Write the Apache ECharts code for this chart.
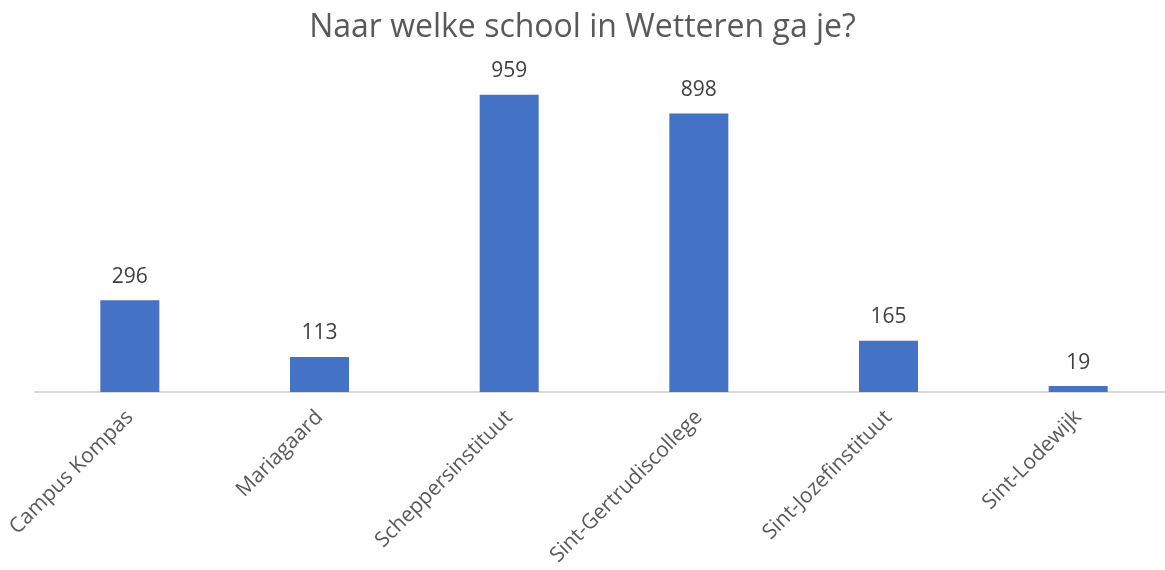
<!DOCTYPE html>
<html>
<head>
<meta charset="utf-8">
<script src="https://cdn.jsdelivr.net/npm/echarts@6/dist/echarts.min.js"></script>
<style>
  html, body { margin: 0; padding: 0; background: #fff; }
  #main { width: 1165px; height: 570px; }
</style>
</head>
<body>
<div id="main"></div>
<script>
var schools = ['Campus Kompas', 'Mariagaard', 'Scheppersinstituut', 'Sint-Gertrudiscollege', 'Sint-Jozefinstituut', 'Sint-Lodewijk'];
var counts = [296, 113, 959, 898, 165, 19];

var chart = echarts.init(document.getElementById('main'));

var option = {
  animation: false,
  title: {
    text: 'Naar welke school in Wetteren ga je?',
    left: 'center',
    top: 7,
    textStyle: {
      color: '#595959',
      fontFamily: 'Open Sans',
      fontWeight: 'normal',
      fontSize: 32
    }
  },
  grid: {
    left: 35,
    width: 1138,
    top: 82,
    bottom: 178,
    outerBoundsMode: 'none'
  },
  xAxis: {
    type: 'category',
    data: schools,
    axisLine: { lineStyle: { color: '#d9d9d9', width: 2 } },
    axisTick: { show: false },
    axisLabel: {
      rotate: 45,
      margin: 22,
      color: '#595959',
      fontFamily: 'Open Sans',
      fontSize: 21,
      interval: 0
    }
  },
  yAxis: {
    type: 'value',
    min: 0,
    max: 1000,
    show: false,
    splitLine: { show: false }
  },
  series: [
    {
      type: 'bar',
      data: counts,
      barWidth: 59,
      itemStyle: { color: '#4472C4' },
      label: {
        show: true,
        position: 'top',
        distance: 13,
        color: '#404040',
        fontFamily: 'Open Sans',
        fontSize: 21
      }
    }
  ]
};

chart.setOption(option);
</script>
</body>
</html>
